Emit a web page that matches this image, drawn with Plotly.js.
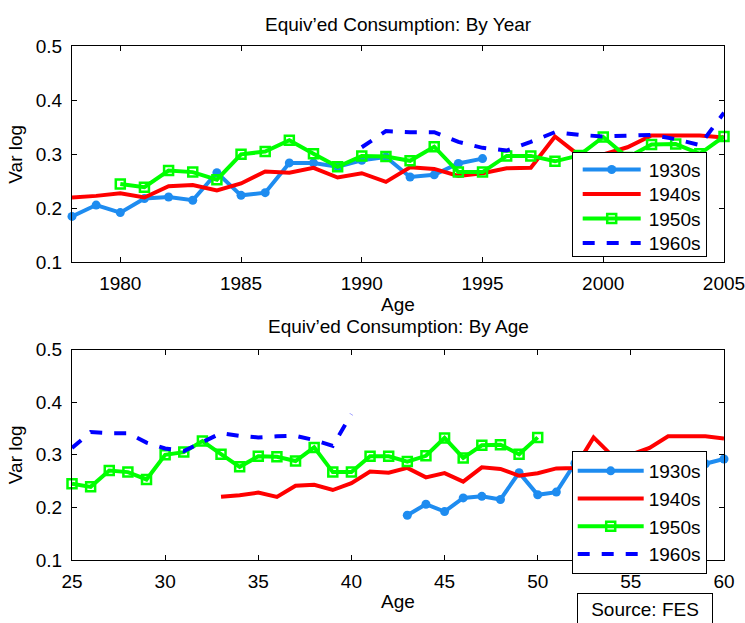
<!DOCTYPE html>
<html>
<head>
<meta charset="utf-8">
<script src="https://cdn.plot.ly/plotly-3.0.1.min.js"></script>
<style>html,body{margin:0;padding:0;background:#fff;}#chart{width:745px;height:623px;}</style>
</head>
<body>
<div id="chart"></div>
<script>
// ---- data ----
const cohorts = ['1930s', '1940s', '1950s', '1960s'];

const year1930 = [1978,1979,1980,1981,1982,1983,1984,1985,1986,1987,1988,1989,1990,1991,1992,1993,1994,1995];
const age1930  = [43,44,45,46,47,48,49,50,51,52,53,54,55,56,57,58,59,60];
const var1930  = [0.185,0.206,0.192,0.218,0.221,0.215,0.266,0.224,0.229,0.284,0.284,0.277,0.289,0.295,0.258,0.262,0.283,0.292];

const year1940 = [1978,1979,1980,1981,1982,1983,1984,1985,1986,1987,1988,1989,1990,1991,1992,1993,1994,1995,1996,1997,1998,1999,2000,2001,2002,2003,2004,2005];
const age1940  = [33,34,35,36,37,38,39,40,41,42,43,44,45,46,47,48,49,50,51,52,53,54,55,56,57,58,59,60];
const var1940  = [0.220,0.223,0.228,0.220,0.241,0.243,0.233,0.246,0.268,0.266,0.275,0.257,0.265,0.249,0.276,0.273,0.260,0.265,0.274,0.275,0.333,0.298,0.300,0.313,0.335,0.335,0.335,0.331];

const year1950 = [1980,1981,1982,1983,1984,1985,1986,1987,1988,1989,1990,1991,1992,1993,1994,1995,1996,1997,1998,1999,2000,2001,2002,2003,2004,2005];
const age1950  = [25,26,27,28,29,30,31,32,33,34,35,36,37,38,39,40,41,42,43,44,45,46,47,48,49,50];
const var1950  = [0.245,0.239,0.270,0.267,0.253,0.300,0.305,0.326,0.301,0.277,0.297,0.296,0.288,0.314,0.267,0.267,0.297,0.297,0.287,0.298,0.332,0.294,0.318,0.319,0.301,0.333];

const year1960 = [1990,1991,1992,1993,1994,1995,1996,1997,1998,1999,2000,2001,2002,2003,2004,2005];
const age1960  = [25,26,27,28,29,30,31,32,33,34,35,36,37,38,39,40];
const var1960  = [0.313,0.343,0.341,0.341,0.323,0.312,0.307,0.323,0.341,0.336,0.333,0.335,0.336,0.328,0.317,0.377];

const yearTicks = [1980,1985,1990,1995,2000,2005];
const ageTicks  = [25,30,35,40,45,50,55,60];
const varTicks  = [0.1,0.2,0.3,0.4,0.5];

// ---- styles ----
const FONT = 'Liberation Sans, Arial, Helvetica, sans-serif';
const FS = 19;
const styles = [
  {line:{color:'#1e8cf0', width:4}, mode:'lines+markers', marker:{symbol:'circle', size:9, color:'#1e8cf0'}},
  {line:{color:'#ff0000', width:4}, mode:'lines'},
  {line:{color:'#00ff00', width:4}, mode:'lines+markers', marker:{symbol:'square-open', size:9, color:'#00ff00', line:{width:2.5, color:'#00ff00'}}},
  {line:{color:'#0000ff', width:4, dash:'dash'}, mode:'lines'}
];
const byYear = [[year1930,var1930],[year1940,var1940],[year1950,var1950],[year1960,var1960]];
const byAge  = [[age1930,var1930],[age1940,var1940],[age1950,var1950],[age1960,var1960]];

const traces = [];
byYear.forEach((d,i)=>traces.push(Object.assign({x:d[0], y:d[1], name:cohorts[i], xaxis:'x', yaxis:'y', legend:'legend', cliponaxis:false, hoverinfo:'skip'}, styles[i])));
byAge.forEach((d,i)=>traces.push(Object.assign({x:d[0], y:d[1], name:cohorts[i], xaxis:'x2', yaxis:'y2', legend:'legend2', cliponaxis:false, hoverinfo:'skip'}, styles[i])));

const W = 745, H = 623;
const px = v => v / W;
const py = v => (H - v) / H;

function xax(range, ticks, anchor){
  return {domain:[px(72), px(724)], anchor:anchor, range:range, tickvals:ticks, ticks:'inside', ticklen:5, tickcolor:'#000',
    showline:true, linecolor:'#000', linewidth:1, mirror:'ticks', showgrid:false, zeroline:false,
    tickfont:{family:FONT, size:FS, color:'#000'}, ticklabelstandoff:4, ticklabeloverflow:'allow',
    title:{text:'Age', font:{family:FONT, size:FS, color:'#000'}, standoff:3}};
}
function yax(dom, anchor){
  return {domain:dom, anchor:anchor, range:[0.1,0.5], tickvals:varTicks, tickformat:'.1f', ticks:'inside', ticklen:5, tickcolor:'#000',
    showline:true, linecolor:'#000', linewidth:1, mirror:'ticks', showgrid:false, zeroline:false,
    tickfont:{family:FONT, size:FS, color:'#000'}, ticklabelstandoff:5, ticklabeloverflow:'allow',
    title:{text:'Var log', font:{family:FONT, size:FS, color:'#000'}, standoff:8}};
}
const legendStyle = {bgcolor:'#fff', bordercolor:'#000', borderwidth:1, font:{family:FONT, size:FS, color:'#000'},
  itemwidth:66, tracegroupgap:0, xanchor:'left', yanchor:'top'};

const layout = {
  width:W, height:H, margin:{l:0,r:0,t:0,b:0}, paper_bgcolor:'#fff', plot_bgcolor:'#fff',
  font:{family:FONT, size:FS, color:'#000'}, showlegend:true,
  xaxis: xax([1978,2005], yearTicks, 'y'),
  yaxis: yax([py(262.3), py(46.3)], 'x'),
  xaxis2: xax([25,60], ageTicks, 'y2'),
  yaxis2: yax([py(560), py(349.5)], 'x2'),
  legend: Object.assign({x:px(571.7), y:py(151.7)}, legendStyle),
  legend2: Object.assign({x:px(571.7), y:py(451)}, legendStyle),
  annotations:[
    {text:"Equiv’ed Consumption: By Year", xref:'paper', yref:'paper', x:px(398), y:py(24), xanchor:'center', yanchor:'middle', showarrow:false, font:{family:FONT, size:FS, color:'#000'}},
    {text:"Equiv’ed Consumption: By Age", xref:'paper', yref:'paper', x:px(398), y:py(326), xanchor:'center', yanchor:'middle', showarrow:false, font:{family:FONT, size:FS, color:'#000'}},
    {text:'Source: FES', xref:'paper', yref:'paper', x:px(645), y:py(609), xanchor:'center', yanchor:'middle', showarrow:false,
     font:{family:FONT, size:FS, color:'#000'}, bordercolor:'#000', borderwidth:1, borderpad:4, bgcolor:'#fff', width:126, height:22}
  ]
};

function fixLegends(gd){
  gd.querySelectorAll('.legend').forEach(function(lg){
    let y0 = null;
    lg.querySelectorAll('.traces').forEach(function(t,i){
      const m = /translate\(\s*([-\d.e]+)[ ,]+([-\d.e]+)\s*\)/.exec(t.getAttribute('transform') || '');
      if(!m) return;
      if(y0 === null) y0 = parseFloat(m[2]);
      t.setAttribute('transform', 'translate(' + m[1] + ',' + (y0 - 2 + i * 24.5) + ')');
    });
    const bg = lg.querySelector('rect.bg');
    if(bg) bg.setAttribute('height', 104);
    lg.querySelectorAll('.legendlines path').forEach(p=>p.setAttribute('d','M10,0h58'));
    lg.querySelectorAll('.legendpoints path').forEach(p=>p.setAttribute('transform','translate(39,0)'));
  });
}

Plotly.newPlot('chart', traces, layout, {displayModeBar:false, staticPlot:true}).then(fixLegends);
</script>
</body>
</html>
